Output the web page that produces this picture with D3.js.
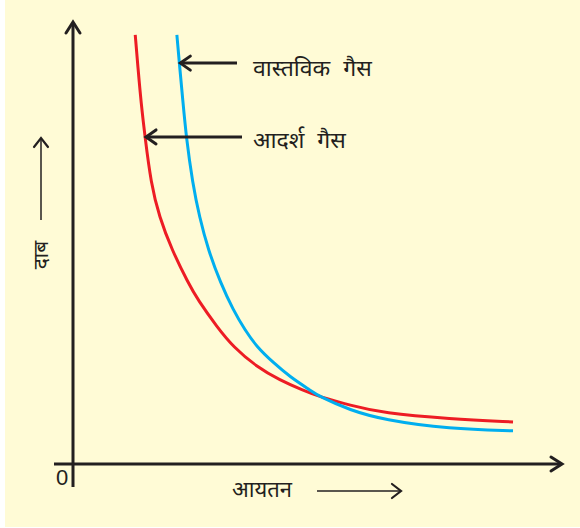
<!DOCTYPE html>
<html>
<head>
<meta charset="utf-8">
<script src="https://cdn.jsdelivr.net/npm/d3@7"></script>
<style>
  body { margin: 0; background: #fff; }
  svg { display: block; }
  text { font-family: "Noto Sans", "Noto Sans Devanagari", sans-serif; fill: #231f20; }
</style>
</head>
<body>
<svg id="chart"></svg>
<script>
// volume (x) and pressure (y), arbitrary units 0-10
const idealVolume = [1.27, 1.33, 1.39, 1.47, 1.59, 1.76, 2.02, 2.35, 2.55, 2.94, 3.27, 3.76, 4.22, 4.69, 5.04, 5.65, 6.33, 7.69, 8.98]
const idealPressure = [9.71, 8.91, 8.17, 7.40, 6.36, 5.59, 4.84, 4.10, 3.71, 3.10, 2.65, 2.19, 1.90, 1.67, 1.52, 1.33, 1.15, 1.02, 0.95]

const realVolume = [2.12, 2.17, 2.24, 2.31, 2.44, 2.58, 2.76, 3.01, 3.27, 3.51, 3.75, 4.09, 4.43, 4.84, 5.04, 5.65, 6.33, 7.69, 8.98]
const realPressure = [9.71, 9.07, 8.24, 7.40, 6.36, 5.59, 4.84, 4.10, 3.48, 3.03, 2.65, 2.29, 1.97, 1.67, 1.52, 1.22, 1.00, 0.79, 0.75]

const xLabel = 'आयतन'
const yLabel = 'दाब'
const realLabel = 'वास्तविक गैस'
const idealLabel = 'आदर्श गैस'

const svgw = 580
const svgh = 528
const ink = '#231f20'

const svg = d3.select('#chart')
    .attr('width', svgw)
    .attr('height', svgh)

svg.append('rect')
    .attr('x', 5)
    .attr('y', 0)
    .attr('width', svgw - 5)
    .attr('height', svgh - 1)
    .attr('fill', '#fffbd6')

const xScale = d3.scaleLinear()
    .domain([0, 10])
    .range([73, 563])
const yScale = d3.scaleLinear()
    .domain([0, 10])
    .range([464, 22])

const line = d3.line()
    .x(d => xScale(d[0]))
    .y(d => yScale(d[1]))
    .curve(d3.curveBasis)

const chevron = (g, tipX, tipY, dir, len, spread, width) => {
    // dir: 'up' | 'right' | 'left'
    let pts
    if (dir === 'up') pts = [[tipX - spread, tipY + len], [tipX, tipY], [tipX + spread, tipY + len]]
    else if (dir === 'right') pts = [[tipX - len, tipY - spread], [tipX, tipY], [tipX - len, tipY + spread]]
    else pts = [[tipX + len, tipY - spread], [tipX, tipY], [tipX + len, tipY + spread]]
    g.append('path')
        .attr('d', d3.line()(pts))
        .attr('fill', 'none')
        .attr('stroke', ink)
        .attr('stroke-width', width)
        .attr('stroke-linecap', 'round')
        .attr('stroke-linejoin', 'miter')
}

// axes
const axes = svg.append('g')
axes.append('line')
    .attr('x1', xScale(0)).attr('x2', xScale(0))
    .attr('y1', 487).attr('y2', yScale(10) + 1)
    .attr('stroke', ink).attr('stroke-width', 3)
axes.append('line')
    .attr('x1', 54).attr('x2', xScale(10) - 2)
    .attr('y1', yScale(0)).attr('y2', yScale(0))
    .attr('stroke', ink).attr('stroke-width', 3)
chevron(axes, xScale(0), yScale(10), 'up', 11, 7, 3)
chevron(axes, xScale(10) - 1, yScale(0), 'right', 11, 7, 3)

axes.append('text')
    .attr('x', 62)
    .attr('y', 485)
    .attr('text-anchor', 'middle')
    .style('font-size', '22px')
    .style('font-family', 'Liberation Sans, sans-serif')
    .text('0')

// curves
svg.append('path')
    .datum(d3.zip(idealVolume, idealPressure))
    .attr('d', line)
    .attr('fill', 'none')
    .attr('stroke', '#ed1c24')
    .attr('stroke-width', 3)

svg.append('path')
    .datum(d3.zip(realVolume, realPressure))
    .attr('d', line)
    .attr('fill', 'none')
    .attr('stroke', '#00aeef')
    .attr('stroke-width', 3)

// pointer labels
const notes = svg.append('g')
const pointer = (vol, pres, endX, label, textY) => {
    const y = yScale(pres)
    notes.append('line')
        .attr('x1', xScale(vol) + 1).attr('x2', endX)
        .attr('y1', y).attr('y2', y)
        .attr('stroke', ink).attr('stroke-width', 3)
    chevron(notes, xScale(vol) + 1, y, 'left', 10, 7, 3)
    notes.append('text')
        .attr('x', 253)
        .attr('y', textY)
        .style('font-size', '23px')
        .style('word-spacing', '7px')
        .text(label)
}
pointer(realVolume[1], realPressure[1], 237, realLabel, 76)
pointer(idealVolume[3], idealPressure[3], 242, idealLabel, 148)

// axis titles with small arrows
notes.append('text')
    .attr('transform', 'translate(48,255) rotate(-90)')
    .attr('text-anchor', 'middle')
    .style('font-size', '21px')
    .text(yLabel)
notes.append('line')
    .attr('x1', 41).attr('x2', 41)
    .attr('y1', 220).attr('y2', 138)
    .attr('stroke', ink).attr('stroke-width', 1.5)
chevron(notes, 41, 138, 'up', 9, 7, 2.2)

notes.append('text')
    .attr('x', 232)
    .attr('y', 497)
    .style('font-size', '22px')
    .text(xLabel)
notes.append('line')
    .attr('x1', 317).attr('x2', 401)
    .attr('y1', 491).attr('y2', 491)
    .attr('stroke', ink).attr('stroke-width', 1.5)
chevron(notes, 401, 491, 'right', 9, 7, 2.2)
</script>
</body>
</html>
